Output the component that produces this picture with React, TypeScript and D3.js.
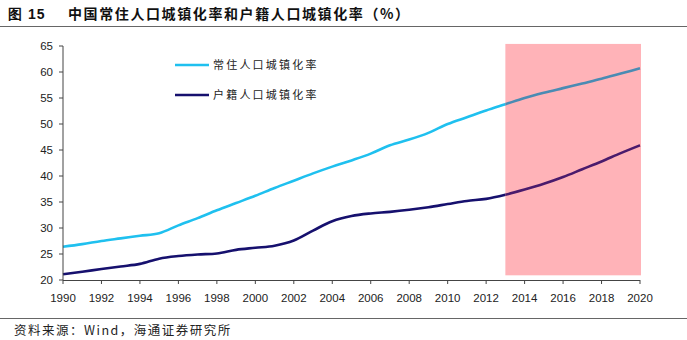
import React from "react";
import * as d3 from "d3";

const years = d3.range(1990, 2021);
const resident = [26.4, 26.9, 27.5, 28.0, 28.5, 29.0, 30.5, 31.9, 33.4, 34.8, 36.2, 37.7, 39.1, 40.5, 41.8, 43.0, 44.3, 45.9, 47.0, 48.3, 50.0, 51.3, 52.6, 53.8, 55.0, 56.0, 56.9, 57.8, 58.7, 59.7, 60.7];
const hukou = [21.1, 21.6, 22.1, 22.6, 23.1, 24.1, 24.6, 24.9, 25.1, 25.8, 26.2, 26.6, 27.6, 29.5, 31.3, 32.3, 32.8, 33.1, 33.5, 34.0, 34.6, 35.2, 35.6, 36.4, 37.4, 38.5, 39.8, 41.3, 42.8, 44.4, 45.9];
const yTicks = [20, 25, 30, 35, 40, 45, 50, 55, 60, 65];
const xTicks = d3.range(1990, 2021, 2);
const seriesNames = ["常住人口城镇化率", "户籍人口城镇化率"];
const forecastStart = 2013;
const forecastEnd = 2020;

const W = 687, H = 340;
const x = d3.scaleLinear().domain([1990, 2020]).range([63, 640]);
const y = d3.scaleLinear().domain([20, 65]).range([280, 46]);

export default function App() {
  const line = d3.line<number>().x((_, i) => x(years[i])).y((v) => y(v)).curve(d3.curveMonotoneX);
  const series = [
    { name: seriesNames[0], data: resident, color: "#1FC0EF", inColor: "#4A8BB3" },
    { name: seriesNames[1], data: hukou, color: "#16106E", inColor: "#4A1B6C" },
  ];
  const rx0 = x(forecastStart), rx1 = x(forecastEnd) + 1;
  const ry0 = y(65.4), ry1 = y(20.9);
  const axisColor = "#444";
  return (
    <div style={{ position: "absolute", left: 0, top: 0 }}>
      <svg width={W} height={H} style={{ display: "block", background: "#fff" }}>
        <defs>
          <clipPath id="fc">
            <rect x={rx0} y={ry0} width={rx1 - rx0} height={ry1 - ry0} />
          </clipPath>
        </defs>
        <text x={8} y={19} fontFamily="'Liberation Sans', Arial, sans-serif" fontWeight="bold" fontSize={14} fill="#111" letterSpacing={1}>图 15</text>
        <text x={68} y={19} fontFamily="'Noto Sans CJK SC', sans-serif" fontWeight="bold" fontSize={14} fill="#111" letterSpacing={1.6}>中国常住人口城镇化率和户籍人口城镇化率（%）</text>
        <line x1={0} x2={W} y1={26.5} y2={26.5} stroke="#666" strokeWidth={1} />

        {series.map((s) => (
          <path key={s.name} d={line(s.data) || ""} fill="none" stroke={s.color} strokeWidth={2.6} />
        ))}
        <rect x={rx0} y={ry0} width={rx1 - rx0} height={ry1 - ry0} fill="#FFB3B8" />
        {series.map((s) => (
          <path key={s.name + "f"} d={line(s.data) || ""} fill="none" stroke={s.inColor} strokeWidth={2.6} clipPath="url(#fc)" />
        ))}

        <line x1={x(1990)} x2={x(1990)} y1={y(65)} y2={y(20)} stroke={axisColor} strokeWidth={1} />
        {yTicks.map((t) => (
          <g key={t}>
            <line x1={x(1990) - 4} x2={x(1990)} y1={y(t)} y2={y(t)} stroke={axisColor} />
            <text x={53} y={y(t) + 4} textAnchor="end" fontFamily="'Liberation Sans', Arial, sans-serif" fontSize={11.5} fill="#222">{t}</text>
          </g>
        ))}
        <line x1={x(1990)} x2={x(2020)} y1={y(20) + 0.5} y2={y(20) + 0.5} stroke={axisColor} strokeWidth={1} />
        {xTicks.map((t) => (
          <g key={t}>
            <line x1={x(t)} x2={x(t)} y1={y(20)} y2={y(20) + 4} stroke={axisColor} />
            <text x={x(t)} y={302} textAnchor="middle" fontFamily="'Liberation Sans', Arial, sans-serif" fontSize={11.5} fill="#222">{t}</text>
          </g>
        ))}

        {series.map((s, i) => (
          <g key={s.name + "l"}>
            <line x1={175} x2={209} y1={65 + i * 30} y2={65 + i * 30} stroke={s.color} strokeWidth={2.6} />
            <text x={213} y={69 + i * 30} fontFamily="'Noto Sans CJK SC', sans-serif" fontSize={11} fill="#222" letterSpacing={2.2}>{s.name}</text>
          </g>
        ))}

        <line x1={0} x2={W} y1={318.5} y2={318.5} stroke="#666" strokeWidth={1} />
        <text x={14} y={335} fontFamily="'Noto Sans CJK SC', sans-serif" fontSize={12.5} fill="#222" letterSpacing={1.5}>资料来源：Wind，海通证券研究所</text>
      </svg>
    </div>
  );
}
